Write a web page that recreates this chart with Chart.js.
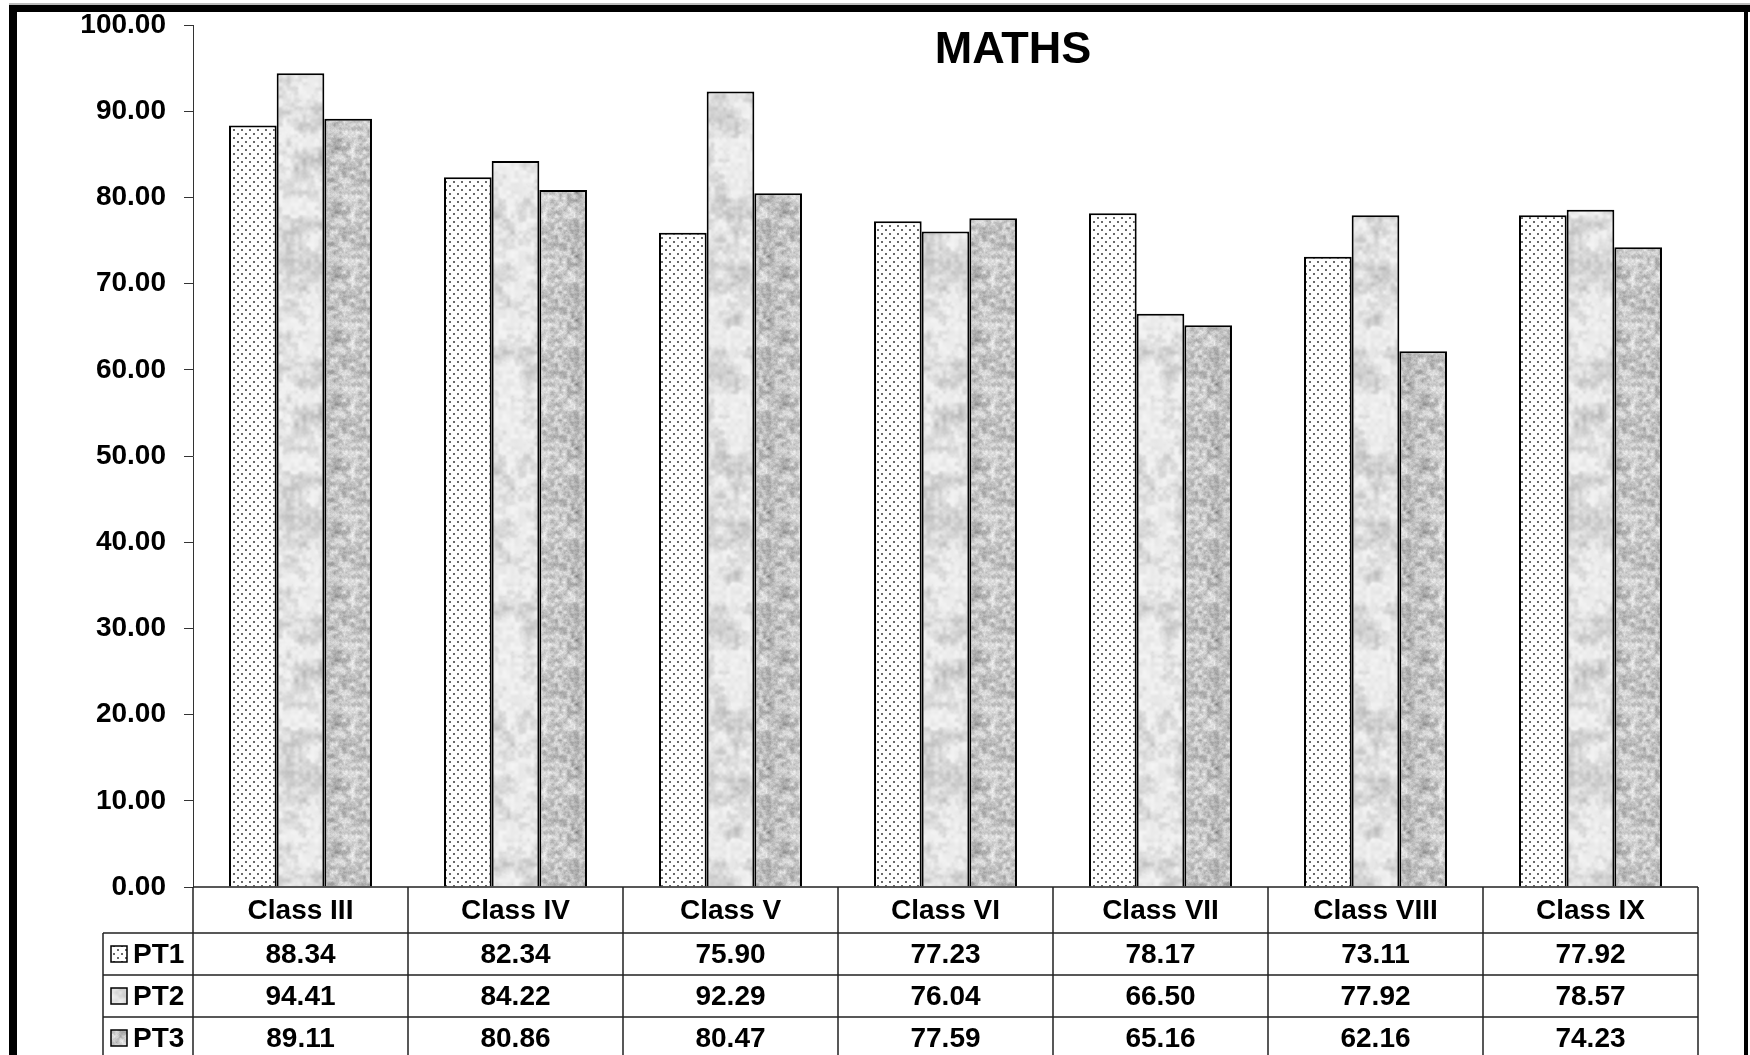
<!DOCTYPE html>
<html>
<head>
<meta charset="utf-8">
<script src="https://cdn.jsdelivr.net/npm/chart.js@4"></script>
<style>
  body { margin: 0; background: #fff; }
  canvas { display: block; }
</style>
</head>
<body>
<canvas id="myChart" width="1750" height="1055"></canvas>
<script>
const categories = ['Class III', 'Class IV', 'Class V', 'Class VI', 'Class VII', 'Class VIII', 'Class IX']
const seriesNames = ['PT1', 'PT2', 'PT3']
const pt1 = [88.34, 82.34, 75.90, 77.23, 78.17, 73.11, 77.92]
const pt2 = [94.41, 84.22, 92.29, 76.04, 66.50, 77.92, 78.57]
const pt3 = [89.11, 80.86, 80.47, 77.59, 65.16, 62.16, 74.23]
const yMin = 0, yMax = 100, yStep = 10

const FONT = "'Liberation Sans', Arial, sans-serif"
const ctx = document.getElementById('myChart')
const c2d = ctx.getContext('2d')

// texture helpers (deterministic hash noise)
function hash(x, y) {
    const s = Math.sin(x * 127.1 + y * 311.7) * 43758.5453
    return s - Math.floor(s)
}
function smooth(x, y, w, h) {
    const x0 = Math.floor(x), y0 = Math.floor(y)
    const fx = x - x0, fy = y - y0
    const ux = fx * fx * (3 - 2 * fx), uy = fy * fy * (3 - 2 * fy)
    const m = (v, n) => ((v % n) + n) % n
    const a = hash(m(x0, w), m(y0, h)), b = hash(m(x0 + 1, w), m(y0, h))
    const c = hash(m(x0, w), m(y0 + 1, h)), d = hash(m(x0 + 1, w), m(y0 + 1, h))
    return a + (b - a) * ux + (c - a) * uy + (a - b - c + d) * ux * uy
}
function fbm(x, y, W, H, cell, oct) {
    let n = 0, amp = 1, tot = 0, cs = cell
    for (let o = 0; o < oct; o++) {
        n += amp * smooth(x / cs, y / cs, Math.round(W / cs), Math.round(H / cs))
        tot += amp; amp *= 0.5; cs /= 2
    }
    return n / tot
}
function makeTile(w, h, fn) {
    const t = document.createElement('canvas')
    t.width = w; t.height = h
    const tc = t.getContext('2d')
    const img = tc.createImageData(w, h)
    for (let y = 0; y < h; y++) {
        for (let x = 0; x < w; x++) {
            const v = Math.max(0, Math.min(255, fn(x, y)))
            const i = (y * w + x) * 4
            img.data[i] = img.data[i + 1] = img.data[i + 2] = v
            img.data[i + 3] = 255
        }
    }
    tc.putImageData(img, 0, 0)
    return c2d.createPattern(t, 'repeat')
}

// PT1 - dotted
const dotTile = document.createElement('canvas')
dotTile.width = 8; dotTile.height = 8
const dt = dotTile.getContext('2d')
dt.fillStyle = '#fff'; dt.fillRect(0, 0, 8, 8)
dt.fillStyle = '#6a6a6a'
dt.fillRect(1, 1, 2, 2)
dt.fillRect(5, 5, 2, 2)
const dotPattern = c2d.createPattern(dotTile, 'repeat')

// PT2 - marble, light grey with soft smudges
const marblePattern = makeTile(128, 256, (x, y) => {
    const n = fbm(x, y, 128, 256, 16, 4)
    const f = fbm(x, y, 128, 256, 4, 1)
    return 244 - Math.max(0, n - 0.42) * 100 - f * 16
})

// PT3 - granite, fine mottled grey
const granitePattern = makeTile(64, 64, (x, y) => {
    const a = fbm(x, y, 64, 64, 4, 2)
    const b = fbm(x, y, 64, 64, 16, 1)
    return 125 + a * 95 + b * 30 + hash(x, y) * 14
})

const patterns = [dotPattern, marblePattern, granitePattern]
const seriesData = [pt1, pt2, pt3]

const extras = {
    id: 'extras',
    afterDraw(chart) {
        const g = chart.ctx
        const area = chart.chartArea
        const xs = chart.scales.x
        const catW = xs.getPixelForValue(1) - xs.getPixelForValue(0)
        const rowTop = area.bottom
        const rowH = [46, 42, 42, 42]
        const legendLeft = 103
        g.save()

        // title
        g.fillStyle = '#000'
        g.font = 'bold 45px ' + FONT
        g.textAlign = 'center'
        g.textBaseline = 'middle'
        g.fillText('MATHS', 1013, 51)

        // table grid
        g.strokeStyle = '#222'
        g.lineWidth = 1.5
        g.beginPath()
        g.moveTo(area.left, rowTop); g.lineTo(area.right, rowTop)
        let y = rowTop
        const rowYs = []
        for (let r = 0; r < rowH.length; r++) {
            rowYs.push(y + rowH[r] / 2)
            y += rowH[r]
            g.moveTo(legendLeft, y); g.lineTo(area.right, y)
        }
        g.moveTo(legendLeft, rowTop + rowH[0]); g.lineTo(legendLeft, 1055)
        for (let i = 0; i <= categories.length; i++) {
            const vx = area.left + i * catW
            g.moveTo(vx, rowTop); g.lineTo(vx, 1055)
        }
        g.stroke()

        // category labels + values
        g.font = 'bold 28px ' + FONT
        g.fillStyle = '#000'
        categories.forEach((cat, i) => {
            const cx = xs.getPixelForValue(i)
            g.fillText(cat, cx, rowYs[0] + 1)
            seriesData.forEach((arr, s) => {
                g.fillText(arr[i].toFixed(2), cx, rowYs[s + 1] + 1)
            })
        })

        // legend cells
        g.textAlign = 'left'
        seriesNames.forEach((name, s) => {
            const cy = rowYs[s + 1]
            g.fillStyle = patterns[s]
            g.fillRect(111, cy - 8, 16, 16)
            g.strokeStyle = '#000'
            g.lineWidth = 1.5
            g.strokeRect(111, cy - 8, 16, 16)
            g.fillStyle = '#000'
            g.fillText(name, 133, cy + 1)
        })

        // outer frame
        g.fillStyle = '#bbb'
        g.fillRect(9, 3, 1741, 2)
        g.fillStyle = '#000'
        g.fillRect(9, 5, 1741, 7)
        g.fillRect(9, 5, 8, 1050)
        g.fillRect(1744, 5, 4, 1050)
        g.restore()
    }
}

const config = {
    type: 'bar',
    data: {
        labels: categories,
        datasets: seriesNames.map((name, s) => ({
            label: name,
            data: seriesData[s],
            backgroundColor: patterns[s],
            borderColor: '#000',
            borderWidth: 2,
            categoryPercentage: 0.665,
            barPercentage: 1.0
        }))
    },
    options: {
        responsive: false,
        animation: false,
        devicePixelRatio: 1,
        layout: { padding: { left: 0, top: 25, right: 52, bottom: 168 } },
        scales: {
            x: { display: false },
            y: {
                min: yMin,
                max: yMax,
                afterFit(scale) {
                    scale.width = 193
                    scale.paddingTop = 0
                    scale.paddingBottom = 0
                },
                ticks: {
                    stepSize: yStep,
                    padding: 18,
                    color: '#000',
                    font: { family: FONT, size: 28, weight: 'bold' },
                    callback: v => Number(v).toFixed(2)
                },
                grid: { drawOnChartArea: false, tickLength: 9, color: '#333', lineWidth: 1 },
                border: { display: true, color: '#333', width: 1 }
            }
        },
        plugins: {
            legend: { display: false },
            tooltip: { enabled: false }
        }
    },
    plugins: [extras]
}
const charts = new Chart(ctx, config)
</script>
</body>
</html>
